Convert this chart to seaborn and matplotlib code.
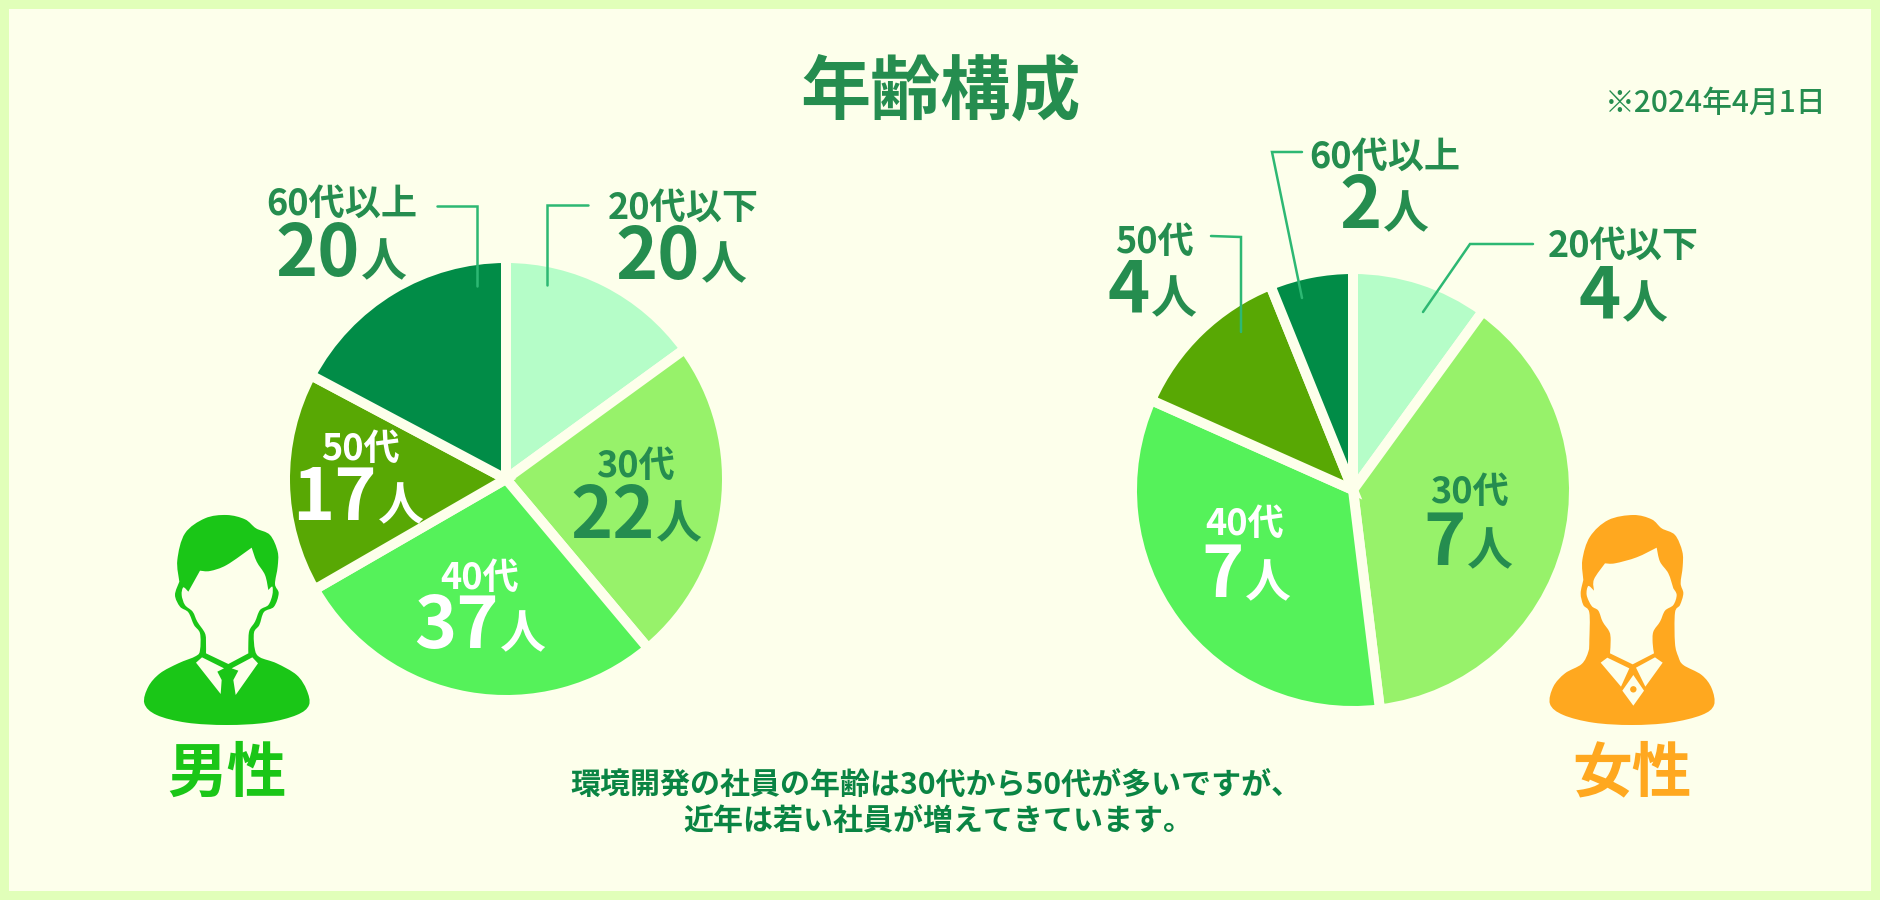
import matplotlib
matplotlib.use('Agg')
from matplotlib import pyplot as plt
from matplotlib.path import Path
import matplotlib.patches as patches
import numpy as np
import seaborn as sns

sns.set_theme(style='white')
plt.rcParams['font.family'] = ['Noto Sans CJK JP', 'DejaVu Sans']

# data
age_groups = ['20代以下', '30代', '40代', '50代', '60代以上']
male_counts = [20, 22, 37, 17, 20]
female_counts = [4, 7, 7, 4, 2]
# the slices in the picture are not proportional to the counts, so sweep is read off separately
male_sweep = [54, 86, 100, 58, 62]
female_sweep = [36, 137, 121, 44, 22]

bg = '#FDFFEB'
border = '#E1FFB9'
text_green = '#258D4F'
note_green = '#0A8443'
line_green = '#2DB873'
male_green = '#1AC617'
female_orange = '#FFA81F'
slice_colors = sns.color_palette(['#B5FDC8', '#97F26A', '#55F25A', '#58A804', '#018C47'])

fig = plt.figure(figsize=(18.8, 9), dpi=100, facecolor=border)
ax = fig.add_axes([0, 0, 1, 1])

wedge_style = dict(edgecolor=bg, linewidth=7.2, zorder=2)
# y axis gets flipped below, so -90 is the top and counterclock runs clockwise on screen
ax.pie(male_sweep, colors=slice_colors, center=(506, 479), radius=221, startangle=-90,
       wedgeprops=wedge_style, frame=True)
ax.pie(female_sweep, colors=slice_colors, center=(1353, 490), radius=221, startangle=-90,
       wedgeprops=wedge_style, frame=True)

ax.set_xlim(0, 1880)
ax.set_ylim(900, 0)
ax.set_aspect('equal')
ax.axis('off')
ax.add_patch(patches.Rectangle((9, 9), 1862, 882, facecolor=bg, edgecolor='none', zorder=0))


def catmull(points):
    # smooth run of points, returns bezier vertices without the first point
    pts = np.array(points, dtype=float)
    out = []
    for i in range(len(pts) - 1):
        p0 = pts[max(i - 1, 0)]
        p1 = pts[i]
        p2 = pts[i + 1]
        p3 = pts[min(i + 2, len(pts) - 1)]
        out += [p1 + (p2 - p0) / 6, p2 - (p3 - p1) / 6, p2]
    return out


def blob(runs, ox, oy, color, z):
    # runs are smooth pieces joined at sharp corners, coords from the 3x zoom
    verts = [runs[0][0]]
    codes = [Path.MOVETO]
    for run in runs:
        seg = catmull(run)
        verts += seg
        codes += [Path.CURVE4] * len(seg)
    verts.append(runs[0][0])
    codes.append(Path.CLOSEPOLY)
    verts = [(ox + v[0] / 3, oy + v[1] / 3) for v in verts]
    ax.add_patch(patches.PathPatch(Path(verts, codes), facecolor=color, edgecolor='none', zorder=z))


def poly(points, ox, oy, color, z):
    pts = [(ox + p[0] / 3, oy + p[1] / 3) for p in points]
    ax.add_patch(patches.Polygon(pts, closed=True, facecolor=color, edgecolor='none', zorder=z))


# male icon
blob([[(178, 305), (172, 240), (195, 160), (255, 115), (320, 105), (375, 118), (408, 145),
       (450, 165), (473, 215), (473, 260), (465, 312), (476, 340), (462, 380), (432, 396),
       (418, 435), (402, 458), (405, 510), (420, 532), (470, 550), (530, 585), (560, 630),
       (567, 675), (530, 705), (440, 728), (320, 735), (200, 728), (110, 705), (73, 670),
       (85, 620), (120, 580), (175, 550), (228, 528), (240, 510), (240, 460), (222, 435),
       (205, 397), (180, 380), (165, 345), (178, 305)]], 120, 480, male_green, 3)
blob([[(205, 335), (240, 272)],
      [(240, 272), (270, 273), (320, 255), (395, 203)],
      [(395, 203), (410, 245), (435, 285), (445, 330)],
      [(445, 330), (457, 320), (457, 345), (445, 375), (420, 390), (405, 425), (388, 452),
       (385, 490), (385, 520)],
      [(385, 520), (325, 552)],
      [(325, 552), (258, 520)],
      [(258, 520), (258, 490), (255, 460), (232, 425), (218, 395), (195, 375), (185, 345),
       (190, 322), (205, 335)]], 120, 480, bg, 4)
poly([(228, 548), (246, 532), (312, 565), (292, 575), (305, 600), (302, 642)], 120, 480, bg, 4)
poly([(414, 550), (397, 532), (335, 565), (355, 572), (340, 600), (347, 645)], 120, 480, bg, 4)

# female icon
blob([[(190, 300), (187, 240), (210, 170), (265, 120), (340, 105), (395, 118), (425, 145),
       (465, 165), (487, 215), (488, 260), (482, 310), (490, 340), (480, 375), (465, 398),
       (465, 490), (475, 530), (490, 555), (545, 585), (575, 625), (582, 675), (545, 705),
       (450, 728), (335, 735), (220, 728), (130, 705), (90, 672), (100, 620), (135, 580),
       (185, 552), (205, 515), (208, 480), (208, 398), (190, 375), (182, 340), (190, 300)]],
     1520, 480, female_orange, 3)
blob([[(222, 332), (222, 298), (255, 250)],
      [(255, 250), (285, 250), (350, 232), (410, 203)],
      [(410, 203), (420, 245), (445, 280), (460, 325)],
      [(460, 325), (470, 345), (460, 375), (435, 392), (420, 425), (400, 455), (398, 490),
       (402, 520)],
      [(402, 520), (338, 553)],
      [(338, 553), (270, 520)],
      [(270, 520), (272, 480), (268, 455), (248, 425), (235, 392), (215, 378), (200, 345),
       (205, 318), (222, 332)]], 1520, 480, bg, 4)
poly([(242, 548), (262, 533), (328, 565), (303, 620)], 1520, 480, bg, 4)
poly([(428, 548), (405, 532), (348, 563), (376, 620)], 1520, 480, bg, 4)
poly([(340, 585), (372, 632), (340, 677), (307, 632)], 1520, 480, bg, 4)
ax.add_patch(patches.Circle((1520 + 340 / 3, 480 + 628 / 3), 2.5, color=female_orange, zorder=5))


def count_label(i, counts, name_x, name_y, split_x, base_y, color):
    # name on top, big number and small 人 below, split_x is where the digits stop
    ax.text(name_x, name_y + 3, age_groups[i], fontsize=26, fontweight='bold', color=color,
            ha='center', va='center', zorder=6)
    ax.text(split_x + 2, base_y + 1, str(counts[i]), fontsize=51.5, fontweight='bold', color=color,
            ha='right', va='baseline', zorder=6)
    ax.text(split_x + 3, base_y + 1, '人', fontsize=33, fontweight='bold', color=color,
            ha='left', va='baseline', zorder=6)


count_label(0, male_counts, 683, 205, 698, 278, text_green)
count_label(1, male_counts, 635, 463, 653, 537, text_green)
count_label(2, male_counts, 480, 575, 497, 647, 'white')
count_label(3, male_counts, 360, 446, 375, 519, 'white')
count_label(4, male_counts, 342, 201, 358, 275, text_green)

count_label(0, female_counts, 1623, 243, 1619, 317, text_green)
count_label(1, female_counts, 1469, 489, 1464, 564, text_green)
count_label(2, female_counts, 1245, 521, 1242, 596, 'white')
count_label(3, female_counts, 1154, 239, 1148, 312, text_green)
count_label(4, female_counts, 1385, 154, 1380, 227, text_green)

# leader lines
leaders = [
    ([437, 477, 477], [206, 206, 286]),
    ([588, 547, 547], [205, 205, 285]),
    ([1302, 1272, 1302], [152, 152, 298]),
    ([1211, 1241, 1241], [236, 237, 332]),
    ([1533, 1470, 1423], [244, 244, 312]),
]
for xs, ys in leaders:
    ax.plot(xs, ys, color=line_green, linewidth=1.8, solid_joinstyle='miter', zorder=5)

ax.text(941, 93, '年齢構成', fontsize=50.5, fontweight='bold', color=text_green, ha='center', va='center')
ax.text(1716, 103, '※2024年4月1日', fontsize=21.5, fontweight='medium', color=text_green, ha='center', va='center')
ax.text(227, 775, '男性', fontsize=43, fontweight='bold', color=male_green, ha='center', va='center')
ax.text(1632, 774, '女性', fontsize=43, fontweight='bold', color=female_orange, ha='center', va='center')
ax.text(936, 785, '環境開発の社員の年齢は30代から50代が多いですが、', fontsize=21.6, fontweight='bold',
        color=note_green, ha='center', va='center')
ax.text(938, 821, '近年は若い社員が増えてきています。', fontsize=21.6, fontweight='bold',
        color=note_green, ha='center', va='center')

fig.savefig('out.png', dpi=100, facecolor=border)
